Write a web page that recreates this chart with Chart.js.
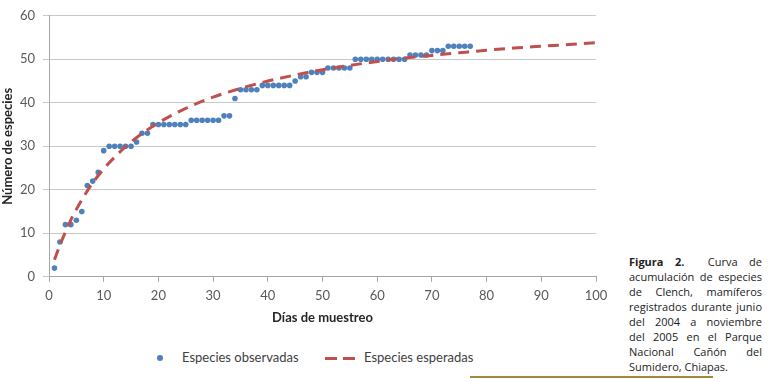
<!DOCTYPE html>
<html>
<head>
<meta charset="utf-8">
<script src="https://cdn.jsdelivr.net/npm/chart.js@4.4.1/dist/chart.umd.min.js"></script>
<style>
  body { margin: 0; background: #fff; width: 769px; height: 382px; overflow: hidden; position: relative; font-family: Lato, sans-serif; }
  #wrap { position: absolute; left: 0; top: 0; width: 620px; height: 326px; }
  .legend { position: absolute; top: 349px; font-size: 13px; color: #404040; white-space: nowrap; }
  .dot { position: absolute; left: 157px; top: 355px; width: 6px; height: 6px; border-radius: 50%; background: #4f81bd; }
  .dash { position: absolute; top: 357px; width: 12px; height: 3px; background: #c0504d; }
  #caption { position: absolute; left: 629px; top: 254px; width: 133px; font-family: "Open Sans", sans-serif; font-size: 11px; line-height: 15px; color: #222; }
  #caption div { text-align: justify; text-align-last: justify; white-space: nowrap; }
  #caption div.last { text-align-last: left; }
  #rule { position: absolute; left: 470px; top: 376px; width: 243px; height: 2px; background: #a6883c; }
</style>
</head>
<body>
<div id="wrap"><canvas id="chart"></canvas></div>
<div class="dot"></div>
<div class="legend" style="left:182px">Especies observadas</div>
<div class="dash" style="left:325px"></div>
<div class="dash" style="left:343px"></div>
<div class="legend" style="left:364px">Especies esperadas</div>
<div id="caption">
  <div><b>Figura 2.</b>&nbsp; Curva de</div>
  <div>acumulación de especies</div>
  <div>de Clench, mamíferos</div>
  <div>registrados durante junio</div>
  <div>del 2004 a noviembre</div>
  <div>del 2005 en el Parque</div>
  <div>Nacional Cañón del</div>
  <div class="last">Sumidero, Chiapas.</div>
</div>
<div id="rule"></div>
<script>
// --- Data ---
// observed species, one value per sampling day (day 1 .. 77)
const observed = [
  2, 8, 12, 12, 13, 15, 21, 22, 24, 29,
  30, 30, 30, 30, 30, 31, 33, 33, 35, 35,
  35, 35, 35, 35, 35, 36, 36, 36, 36, 36,
  36, 37, 37, 41, 43, 43, 43, 43, 44, 44,
  44, 44, 44, 44, 45, 46, 46, 47, 47, 47,
  48, 48, 48, 48, 48, 50, 50, 50, 50, 50,
  50, 50, 50, 50, 50, 51, 51, 51, 51, 52,
  52, 52, 53, 53, 53, 53, 53
];

// expected curve (Clench)
const expectedDays = [1, 2, 3, 4, 5, 6, 8, 10, 12, 15, 20, 25, 30, 35, 40, 45, 50, 55, 60, 65, 70, 75, 80, 85, 90, 95, 100];
const expectedValues = [3.9, 7.3, 10.3, 13.1, 15.5, 17.7, 21.6, 24.8, 27.5, 31.0, 35.4, 38.7, 41.3, 43.3, 45.0, 46.4, 47.6, 48.6, 49.5, 50.3, 50.9, 51.5, 52.1, 52.6, 53.0, 53.4, 53.8];

const xTicks = [0, 10, 20, 30, 40, 50, 60, 70, 80, 90, 100];
const yTicks = [0, 10, 20, 30, 40, 50, 60];

const tickColor = "#595959";
const gridColor = "#c8c8c8";

// --- Chart ---
const ctx = document.getElementById("chart").getContext("2d");
new Chart(ctx, {
  type: "scatter",
  data: {
    datasets: [
      {
        label: "Especies observadas",
        data: observed.map((v, i) => ({ x: i + 1, y: v })),
        backgroundColor: "#4f81bd",
        borderColor: "#4f81bd",
        pointRadius: 2.8,
        pointBorderWidth: 0,
        order: 2
      },
      {
        label: "Especies esperadas",
        data: expectedDays.map((d, i) => ({ x: d, y: expectedValues[i] })),
        showLine: true,
        borderColor: "#c0504d",
        borderWidth: 3,
        borderDash: [11, 7],
        pointRadius: 0,
        cubicInterpolationMode: "monotone",
        order: 1
      }
    ]
  },
  options: {
    responsive: true,
    maintainAspectRatio: false,
    animation: false,
    layout: { padding: { left: 0, right: 24, top: 7, bottom: 0 } },
    plugins: {
      legend: { display: false },
      tooltip: { enabled: false }
    },
    scales: {
      x: {
        type: "linear",
        min: 0,
        max: 100,
        afterBuildTicks: s => { s.ticks = xTicks.map(v => ({ value: v })); },
        grid: { display: true, drawOnChartArea: false, drawTicks: true, tickLength: 5, color: "#a6a6a6" },
        border: { color: "#a6a6a6" },
        ticks: { color: tickColor, font: { family: "Lato", size: 13 }, padding: 6, maxRotation: 0 },
        title: { display: true, text: "Días de muestreo", color: "#262626", font: { family: "Lato", size: 13, weight: "bold" }, padding: { top: 1, bottom: 0 } }
      },
      y: {
        min: 0,
        max: 60,
        afterBuildTicks: s => { s.ticks = yTicks.map(v => ({ value: v })); },
        afterFit: s => { s.width = 49; },
        grid: { color: gridColor, tickLength: 6, drawTicks: true },
        border: { color: "#a6a6a6" },
        ticks: { color: tickColor, font: { family: "Lato", size: 13 }, padding: 8 },
        title: { display: true, text: "Número de especies", color: "#262626", font: { family: "Lato", size: 13, weight: "bold" }, padding: { top: 0, bottom: 2 } }
      }
    }
  }
});
</script>
</body>
</html>
